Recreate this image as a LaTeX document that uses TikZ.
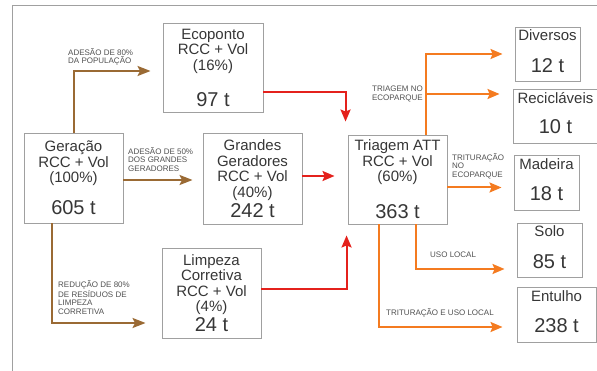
\documentclass[tikz,border=0pt]{standalone}
\usepackage{fontspec}
\setmainfont{Liberation Sans}
\usetikzlibrary{arrows.meta,calc}
\definecolor{brn}{HTML}{9A6A34}
\definecolor{rd}{HTML}{E4211C}
\definecolor{org}{HTML}{F47B20}
\definecolor{txt}{HTML}{363636}
\definecolor{lbl}{HTML}{505050}
\definecolor{bord}{HTML}{A0A0A0}
\newcommand\bnum[1]{{\fontsize{20}{22}\selectfont #1}}
\tikzset{
  box/.style={draw=bord, line width=0.9pt, inner sep=0pt, align=center, text=txt,
    font=\fontsize{15}{15.5}\selectfont},
  sbox/.style={box, text depth=6pt},
  lab/.style={inner sep=0pt, text=lbl, font=\fontsize{8}{8.5}\selectfont},
  barrow/.style={draw=brn, line width=2pt, -{Stealth[length=13pt,width=10pt,inset=2.5pt]}},
  rarrow/.style={draw=rd, line width=2pt, -{Stealth[length=12pt,width=10pt,inset=2pt]}},
  oarrow/.style={draw=org, line width=2pt, -{Stealth[length=12pt,width=10pt,inset=2pt]}}
}
\begin{document}
\begin{tikzpicture}[x=1pt,y=-1pt]
\useasboundingbox (0,0) rectangle (597,371);
\draw[bord, line width=1pt] (12,371) -- (12,6) -- (597,6);

\node[box, minimum width=100pt, minimum height=89pt] (eco) at (213,67.5)
  {Ecoponto\\RCC + Vol\\(16\%)\\[18pt]\bnum{97 t}};
\node[box, minimum width=99pt, minimum height=90pt] (ger) at (73.5,178)
  {Geração\\RCC + Vol\\(100\%)\\[14pt]\bnum{605 t}};
\node[box, minimum width=99pt, minimum height=91pt] (gg) at (252.5,178.5)
  {Grandes\\Geradores\\RCC + Vol\\(40\%)\\[2pt]\bnum{242 t}};
\node[box, minimum width=99pt, minimum height=90pt] (limp) at (211.5,293)
  {Limpeza\\Corretiva\\RCC + Vol\\(4\%)\\[2pt]\bnum{24 t}};
\node[box, minimum width=99pt, minimum height=89pt] (tri) at (397.5,179.5)
  {Triagem ATT\\RCC + Vol\\(60\%)\\[19pt]\bnum{363 t}};
\node[sbox, minimum width=65pt, minimum height=54pt] (div) at (547.5,54)
  {Diversos\\[16pt]\bnum{12 t}};
\node[sbox, minimum width=85pt, minimum height=54pt] (rec) at (555.5,116)
  {Recicláveis\\[15pt]\bnum{10 t}};
\node[sbox, minimum width=65pt, minimum height=55pt] (mad) at (546.5,182.5)
  {Madeira\\[15pt]\bnum{18 t}};
\node[sbox, minimum width=65pt, minimum height=54pt] (solo) at (549.5,250)
  {Solo\\[16pt]\bnum{85 t}};
\node[sbox, minimum width=79pt, minimum height=55pt] (ent) at (556.5,314.5)
  {Entulho\\[15pt]\bnum{238 t}};

% brown arrows
\draw[barrow, shorten >=12pt] (ger.north) |- ([yshift=-3.5pt]eco.west);
\draw[barrow, shorten >=10pt] ([yshift=-2pt]ger.east) -- ([yshift=-2pt]ger.east -| gg.west);
\draw[barrow, shorten >=16pt] ([xshift=28pt]ger.south west) |- ([yshift=-30pt]limp.west);

% red arrows
\draw[rarrow, shorten >=13pt] ([yshift=-24.5pt]eco.east) -| ([xshift=-2pt]tri.north west);
\draw[rarrow, shorten >=13pt] ([yshift=2.5pt]gg.east) -- ([yshift=2.5pt]gg.east -| tri.west);
\draw[rarrow, shorten >=11pt] ([yshift=4pt]limp.east) -| ([xshift=-1pt]tri.south west);

% orange arrows
\coordinate (obr) at ([xshift=78.5pt]tri.north west |- 0,94);
\draw[oarrow, shorten >=12pt] ([xshift=78.5pt]tri.north west) |- (div.west);
\draw[oarrow, shorten >=13pt] (obr) -- (obr -| rec.west);
\draw[oarrow, shorten >=12pt] ([yshift=-8pt]tri.east) -- ([yshift=-8pt]tri.east -| mad.west);
\draw[oarrow, shorten >=12pt] ([xshift=68.5pt]tri.south west) |- ([yshift=-19pt]solo.west);
\draw[oarrow, shorten >=14pt] ([xshift=31.5pt]tri.south west) |- ([yshift=-12.5pt]ent.west);

% labels
\node[lab, anchor=north west, align=left] (l1) at (68,48) {ADESÃO DE 80\%\\DA POPULAÇÃO};
\node[lab, anchor=north west, align=left] (l2) at (128,147) {ADESÃO DE 50\%\\DOS GRANDES\\GERADORES};
\node[lab, anchor=north west, align=left] (l3) at (58,280.5) {REDUÇÃO DE 80\%\\DE RESÍDUOS DE\\LIMPEZA\\CORRETIVA};
\node[lab, anchor=north east, align=left] (l4) at (423,86) {TRIAGEM NO\\ECOPARQUE};
\node[lab, anchor=north west, align=left] (l5) at (452,153) {TRITURAÇÃO\\NO\\ECOPARQUE};
\node[lab, anchor=west] (l6) at (430,255) {USO LOCAL};
\node[lab, anchor=west] (l7) at (386,313) {TRITURAÇÃO E USO LOCAL};
\end{tikzpicture}
\end{document}
